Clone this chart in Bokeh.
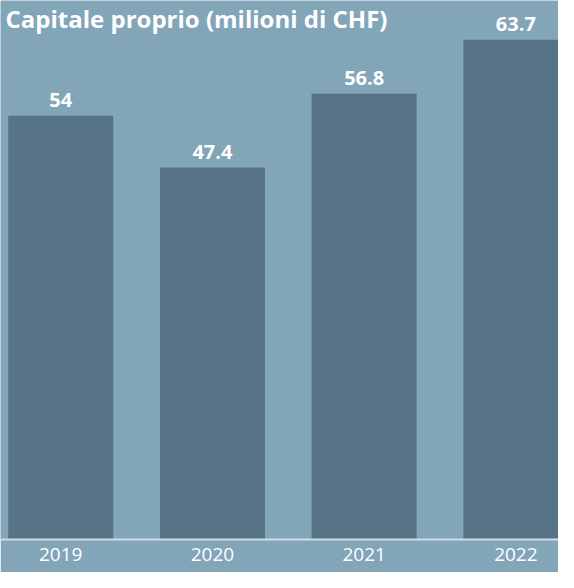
from bokeh.plotting import figure
from bokeh.models import Range1d, FixedTicker, Label, ColumnDataSource
from bokeh.core.properties import value
from bokeh.embed import file_html
from bokeh.resources import INLINE

# ---- data ----
years = ["2019", "2020", "2021", "2022"]
equity = [54, 47.4, 56.8, 63.7]
value_labels = ["54", "47.4", "56.8", "63.7"]
title_text = "Capitale proprio (milioni di CHF)"

# ---- styles ----
BG = "#82a5b8"
BAR = "#567486"
FONT = "Open Sans"

xpos = list(range(len(years)))
src = ColumnDataSource(dict(x=xpos, top=equity, lab=value_labels))

p = figure(width=558, height=572, output_backend="svg", toolbar_location=None,
           x_range=Range1d(-0.397, 3.281), y_range=Range1d(0, 68.7),
           min_border=0, min_border_left=0, min_border_right=0,
           min_border_top=0, min_border_bottom=33,
           background_fill_color=BG, border_fill_color=BG,
           outline_line_color=None)

p.vbar(x="x", top="top", width=0.692, source=src, fill_color=BAR, line_color=None)

p.text(x="x", y="top", text="lab", source=src, text_align="center",
       text_baseline="bottom", y_offset=-9, text_color="white",
       text_font=value(FONT), text_font_style="bold", text_font_size="20px")

p.yaxis.visible = False
p.xgrid.grid_line_color = None
p.ygrid.grid_line_color = None

ax = p.xaxis[0]
ax.ticker = FixedTicker(ticks=xpos)
ax.major_label_overrides = {i: y for i, y in zip(xpos, years)}
ax.axis_line_color = "#cfdce3"
ax.axis_line_width = 2
ax.major_tick_line_color = None
ax.minor_tick_line_color = None
ax.major_tick_in = 0
ax.major_tick_out = 0
ax.major_label_text_color = "white"
ax.major_label_text_font = FONT
ax.major_label_text_font_size = "19px"
ax.major_label_standoff = 8

p.add_layout(Label(x=5, y=68.7, x_units="screen", y_units="data", text=title_text,
                   text_baseline="top", y_offset=-1, text_color="white",
                   text_font=FONT, text_font_style="bold", text_font_size="24px"))

open("out.html", "w").write(file_html(p, INLINE))
